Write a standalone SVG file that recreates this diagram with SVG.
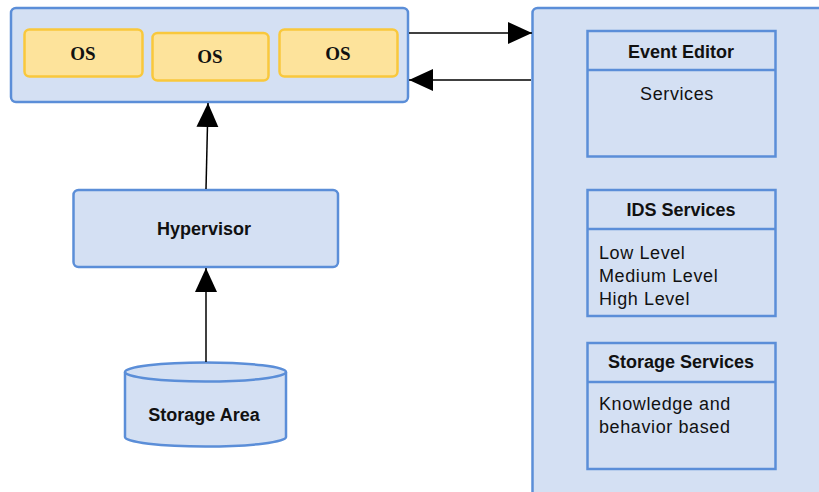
<svg xmlns="http://www.w3.org/2000/svg" width="819" height="492" viewBox="0 0 819 492">
<defs>
<marker id="ah" markerUnits="userSpaceOnUse" markerWidth="26" markerHeight="24" refX="24" refY="11" orient="auto">
<path d="M0,0 L24,11 L0,22 Z" fill="#000"/>
</marker>
</defs>
<style>
.box{fill:#d4e0f3;stroke:#5b8ed8;stroke-width:2.5}
.os{fill:#fde39b;stroke:#f9c83c;stroke-width:2.5}
.sec{fill:none;stroke:#5b8ed8;stroke-width:2.5}
.osl{font-family:"Liberation Serif",serif;font-weight:bold;font-size:19px;fill:#111;text-anchor:middle}
.b{font-family:"Liberation Sans",Arial,sans-serif;font-weight:bold;font-size:18px;fill:#111;text-anchor:middle}
.t{font-family:"Liberation Sans",Arial,sans-serif;font-size:18px;fill:#111;letter-spacing:0.6px}
.c{stroke:#000;stroke-width:1.5;fill:none}
</style>
<rect width="819" height="492" fill="#fff"/>
<g id="vm-host">
<rect class="box" x="11" y="8" width="397" height="94" rx="5"/>
<g id="os1"><rect class="os" x="24.5" y="29.5" width="118" height="47" rx="5"/><text class="osl" x="83" y="60">OS</text></g>
<g id="os2"><rect class="os" x="152.5" y="33" width="116" height="47.5" rx="5"/><text class="osl" x="210" y="63">OS</text></g>
<g id="os3"><rect class="os" x="279.5" y="29.5" width="118" height="47" rx="5"/><text class="osl" x="338" y="60">OS</text></g>
</g>
<g id="hypervisor">
<rect class="box" x="73.5" y="190" width="264.5" height="77" rx="5"/>
<text class="b" x="204" y="235">Hypervisor</text>
</g>
<g id="storage-area">
<path class="box" d="M125,372 A80.5,9.5 0 0 1 286,372 L286,437 A80.5,9.5 0 0 1 125,437 Z"/>
<path class="sec" d="M125,372 A80.5,9.5 0 0 0 286,372"/>
<text class="b" x="204" y="421">Storage Area</text>
</g>
<g id="services-panel">
<rect class="box" x="532.5" y="8" width="300" height="500" rx="5"/>
<g id="event-editor">
<rect class="sec" x="587.5" y="31" width="188" height="125.5"/>
<line class="sec" x1="587.5" y1="70" x2="775.5" y2="70"/>
<text class="b" x="681" y="58">Event Editor</text>
<text class="t" x="677" y="100" text-anchor="middle">Services</text>
</g>
<g id="ids-services">
<rect class="sec" x="587.5" y="190" width="188" height="126"/>
<line class="sec" x1="587.5" y1="229" x2="775.5" y2="229"/>
<text class="b" x="681" y="216">IDS Services</text>
<text class="t" x="599" y="259">Low Level</text>
<text class="t" x="599" y="282">Medium Level</text>
<text class="t" x="599" y="305">High Level</text>
</g>
<g id="storage-services">
<rect class="sec" x="587.5" y="343" width="188" height="126"/>
<line class="sec" x1="587.5" y1="382" x2="775.5" y2="382"/>
<text class="b" x="681" y="368">Storage Services</text>
<text class="t" x="599" y="410">Knowledge and</text>
<text class="t" x="599" y="433">behavior based</text>
</g>
</g>
<g id="connectors">
<line class="c" x1="409" y1="33" x2="532" y2="33" marker-end="url(#ah)"/>
<line class="c" x1="531" y1="80" x2="409" y2="80" marker-end="url(#ah)"/>
<line class="c" x1="206" y1="189" x2="208" y2="103" marker-end="url(#ah)"/>
<line class="c" x1="206" y1="362" x2="206" y2="268" marker-end="url(#ah)"/>
</g>
</svg>
